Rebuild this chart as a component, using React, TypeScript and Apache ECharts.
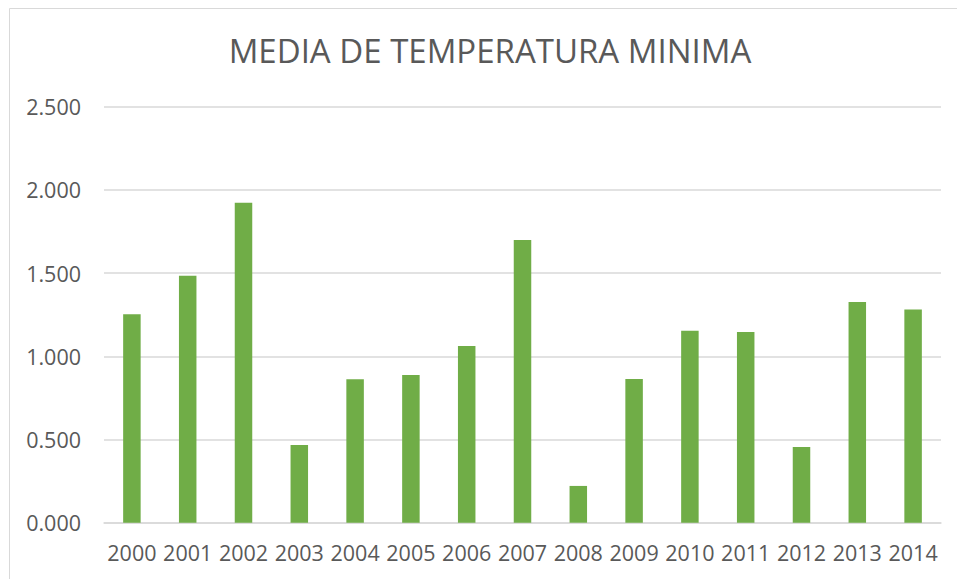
import React, { useEffect, useRef } from "react";
import * as echarts from "echarts";

const TITLE = "MEDIA DE TEMPERATURA MINIMA";
const years = ["2000","2001","2002","2003","2004","2005","2006","2007","2008","2009","2010","2011","2012","2013","2014"];
const values = [1.252, 1.484, 1.923, 0.467, 0.862, 0.888, 1.062, 1.699, 0.221, 0.864, 1.154, 1.146, 0.455, 1.326, 1.282];
const yMin = 0;
const yMax = 2.5;
const yStep = 0.5;

export default function App() {
  const ref = useRef<HTMLDivElement>(null);
  useEffect(() => {
    if (!ref.current) return;
    const chart = echarts.init(ref.current, null, { renderer: "svg" });
    const font = "'Open Sans', sans-serif";
    chart.setOption({
      animation: false,
      backgroundColor: "#ffffff",
      title: {
        text: TITLE,
        left: 485,
        textAlign: "center",
        top: 29,
        textStyle: { fontFamily: font, fontSize: 33, fontWeight: 400, color: "#595959" },
      },
      graphic: [
        {
          type: "rect",
          shape: { x: 9.5, y: 8.5, width: 1000, height: 1000 },
          style: { fill: "none", stroke: "#d9d9d9", lineWidth: 1 },
          silent: true,
        },
      ],
      grid: { left: 104, right: 16, top: 106.7, bottom: 56.3, containLabel: false },
      xAxis: {
        type: "category",
        data: years,
        axisLine: { lineStyle: { color: "#d9d9d9", width: 1.5 } },
        axisTick: { show: false },
        axisLabel: { color: "#595959", fontFamily: font, fontSize: 21.5, margin: 19, interval: 0, hideOverlap: false },
      },
      yAxis: {
        type: "value",
        min: yMin,
        max: yMax,
        interval: yStep,
        axisLine: { show: false },
        axisTick: { show: false },
        splitLine: { lineStyle: { color: "#d9d9d9", width: 1.5 } },
        axisLabel: {
          color: "#595959",
          fontFamily: font,
          fontSize: 21.5,
          margin: 23,
          formatter: (v: number) => v.toFixed(3),
        },
      },
      series: [
        {
          type: "bar",
          data: values,
          barWidth: 17.5,
          itemStyle: { color: "#70AD47" },
        },
      ],
    });
    return () => chart.dispose();
  }, []);
  return (
    <div
      ref={ref}
      style={{ position: "fixed", left: 0, top: 0, width: 957, height: 579 }}
    />
  );
}
